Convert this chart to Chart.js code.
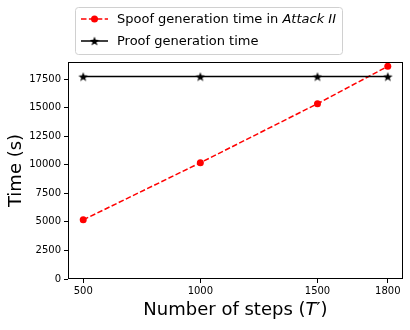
<!DOCTYPE html>
<html>
<head>
<meta charset="utf-8">
<script src="https://cdn.jsdelivr.net/npm/chart.js@4"></script>
<style>
  body { margin: 0; background: #fff; }
  canvas { display: block; }
</style>
</head>
<body>
<canvas id="chart" width="410" height="330"></canvas>
<script>
// data
const steps = [500, 1000, 1500, 1800];
const spoofTime = [5180, 10180, 15350, 18620];
const proofTime = [17720, 17720, 17720, 17720];
const yTicks = [0, 2500, 5000, 7500, 10000, 12500, 15000, 17500];

const FONT = "'DejaVu Sans', sans-serif";

// filled five point star like matplotlib's '*'
function starImage(size, color) {
  const c = document.createElement('canvas');
  c.width = size; c.height = size;
  const g = c.getContext('2d');
  const cx = size / 2, cy = size / 2 + 0.5, R = size / 2, r = R * 0.42;
  g.beginPath();
  for (let i = 0; i < 10; i++) {
    const a = -Math.PI / 2 + i * Math.PI / 5;
    const rad = i % 2 === 0 ? R : r;
    g.lineTo(cx + rad * Math.cos(a), cy + rad * Math.sin(a));
  }
  g.closePath();
  g.fillStyle = color;
  g.fill();
  return c;
}
const star = starImage(10, '#000');

function drawRuns(ctx, runs, x, y, size) {
  runs.forEach(run => {
    ctx.font = (run.italic ? 'italic ' : '') + size + 'px ' + FONT;
    ctx.fillText(run.t, x, y);
    x += ctx.measureText(run.t).width;
  });
  return x;
}
function runsWidth(ctx, runs, size) {
  let w = 0;
  runs.forEach(run => {
    ctx.font = (run.italic ? 'italic ' : '') + size + 'px ' + FONT;
    w += ctx.measureText(run.t).width;
  });
  return w;
}

const extras = {
  id: 'extras',
  afterDraw(chart) {
    const ctx = chart.ctx;
    const a = chart.chartArea;
    ctx.save();
    // frame
    ctx.strokeStyle = '#000';
    ctx.lineWidth = 1;
    ctx.strokeRect(Math.round(a.left) + 0.5, Math.round(a.top) + 0.5,
      Math.round(a.right - a.left) - 1, Math.round(a.bottom - a.top) - 1);

    // x title
    const tRuns = [{ t: 'Number of steps (' }, { t: 'T', italic: true }, { t: '\u2032)' }];
    const tw = runsWidth(ctx, tRuns, 18);
    ctx.fillStyle = '#000';
    ctx.textBaseline = 'middle';
    ctx.textAlign = 'left';
    drawRuns(ctx, tRuns, (a.left + a.right) / 2 - tw / 2, 310, 18);

    // legend
    const lx = 75, ly = 7, lw = 267, lh = 47;
    ctx.beginPath();
    ctx.roundRect(lx + 0.5, ly + 0.5, lw, lh, 3);
    ctx.fillStyle = 'rgba(255,255,255,0.8)';
    ctx.fill();
    ctx.strokeStyle = '#d0d0d0';
    ctx.stroke();

    // row 1
    const r1 = 19, r2 = 41;
    ctx.strokeStyle = 'red';
    ctx.lineWidth = 1.5;
    ctx.setLineDash([5.5, 2.4]);
    ctx.beginPath(); ctx.moveTo(81, r1); ctx.lineTo(108, r1); ctx.stroke();
    ctx.setLineDash([]);
    ctx.fillStyle = 'red';
    ctx.beginPath(); ctx.arc(94.5, r1, 3.5, 0, Math.PI * 2); ctx.fill();
    ctx.fillStyle = '#000';
    drawRuns(ctx, [{ t: 'Spoof generation time in ' }, { t: 'Attack II', italic: true }], 117, r1 + 1, 13);

    // row 2
    ctx.strokeStyle = '#000';
    ctx.beginPath(); ctx.moveTo(81, r2); ctx.lineTo(108, r2); ctx.stroke();
    ctx.drawImage(star, 89.5, r2 - 5);
    ctx.fillStyle = '#000';
    drawRuns(ctx, [{ t: 'Proof generation time' }], 117, r2 + 1, 13);
    ctx.restore();
  }
};

new Chart(document.getElementById('chart'), {
  type: 'line',
  data: {
    datasets: [
      {
        label: 'Spoof generation time in Attack II',
        data: steps.map((s, i) => ({ x: s, y: spoofTime[i] })),
        borderColor: 'red',
        backgroundColor: 'red',
        borderWidth: 1.5,
        borderDash: [5.5, 2.4],
        pointRadius: 3.5,
        pointBorderWidth: 0,
        pointStyle: 'circle',
        order: 1
      },
      {
        label: 'Proof generation time',
        data: steps.map((s, i) => ({ x: s, y: proofTime[i] })),
        borderColor: '#000',
        backgroundColor: '#000',
        borderWidth: 1.5,
        pointStyle: star,
        order: 0
      }
    ]
  },
  options: {
    responsive: false,
    animation: false,
    layout: { padding: { top: 62, right: 7, left: 0, bottom: 0 } },
    plugins: { legend: { display: false }, tooltip: { enabled: false } },
    scales: {
      x: {
        type: 'linear',
        min: 435,
        max: 1865,
        afterBuildTicks: s => { s.ticks = steps.map(v => ({ value: v })); },
        afterFit: s => { s.height = 51; },
        grid: { drawOnChartArea: false, tickLength: 4, color: '#000' },
        border: { display: false },
        ticks: {
          color: '#000', padding: 2, maxRotation: 0,
          font: { family: FONT, size: 10 },
          callback: v => String(v)
        }
      },
      y: {
        min: 0,
        max: 19000,
        afterBuildTicks: s => { s.ticks = yTicks.map(v => ({ value: v })); },
        afterFit: s => { s.width = 68; },
        grid: { drawOnChartArea: false, tickLength: 4, color: '#000' },
        border: { display: false },
        title: {
          display: true, text: 'Time (s)', color: '#000',
          font: { family: FONT, size: 18 }, padding: { top: 6, bottom: 0 }
        },
        ticks: {
          color: '#000', padding: 3,
          font: { family: FONT, size: 10 },
          callback: v => String(v)
        }
      }
    }
  },
  plugins: [extras]
});
</script>
</body>
</html>
